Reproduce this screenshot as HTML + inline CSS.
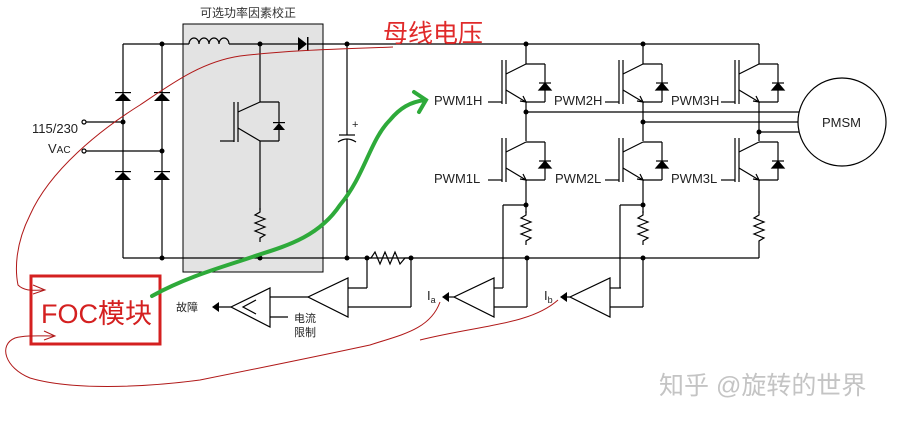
<!DOCTYPE html>
<html><head><meta charset="utf-8"><style>
body{margin:0;background:#fff;}
svg{display:block;}
text{font-family:"Liberation Sans","Noto Sans CJK SC",sans-serif;}
</style></head><body>
<svg width="903" height="421" viewBox="0 0 903 421" xmlns="http://www.w3.org/2000/svg">
<defs>
<g id="igbt" stroke="#000" stroke-width="1.2" fill="none">
  <line x1="-24" y1="-4" x2="-24" y2="40"/>
  <line x1="-20" y1="-4" x2="-20" y2="40"/>
  <line x1="-38" y1="38" x2="-24" y2="38"/>
  <line x1="-20" y1="10" x2="0" y2="0"/>
  <line x1="-20" y1="26" x2="0" y2="38"/>
  <path d="M-6 37 L0 38 L-3 32" />
  <line x1="0" y1="0" x2="19" y2="0"/>
  <line x1="0" y1="38" x2="19" y2="38"/>
  <line x1="19" y1="0" x2="19" y2="38"/>
  <path d="M13 26 L25 26 L19 19 Z" fill="#000"/>
  <line x1="13" y1="19" x2="25" y2="19"/>
</g>
<g id="res" stroke="#000" stroke-width="1.2" fill="none">
  <path d="M0 0 L0 4 L-5 7 L5 11 L-5 15 L5 19 L-5 23 L5 27 L0 30 L0 34"/>
</g>
</defs>

<rect x="183" y="24" width="140" height="248" fill="#e3e3e3" stroke="#000" stroke-width="1"/>
<text x="200" y="17" font-size="12" fill="#333">可选功率因素校正</text>

<g stroke="#000" stroke-width="1.2" fill="none">
<line x1="123" y1="44" x2="189" y2="44"/>
<line x1="123" y1="44" x2="123" y2="258"/>
<line x1="162" y1="44" x2="162" y2="258"/>
<line x1="123" y1="258" x2="759" y2="258"/>
<line x1="84" y1="122" x2="123" y2="122"/>
<line x1="84" y1="151" x2="162" y2="151"/>
<circle cx="84" cy="122" r="2" fill="#fff"/>
<circle cx="84" cy="151" r="2" fill="#fff"/>
<path d="M189 44 a5 6 0 0 1 10 0 a5 6 0 0 1 10 0 a5 6 0 0 1 10 0 a5 6 0 0 1 10 0"/>
<line x1="229" y1="44" x2="298" y2="44"/>
<line x1="308" y1="44" x2="759" y2="44"/>
<line x1="260" y1="44" x2="260" y2="102"/>
<line x1="238" y1="102" x2="238" y2="142"/>
<line x1="234" y1="102" x2="234" y2="142"/>
<line x1="220" y1="141" x2="234" y2="141"/>
<line x1="238" y1="112" x2="260" y2="102"/>
<line x1="238" y1="128" x2="260" y2="141"/>
<line x1="260" y1="102" x2="279" y2="102"/>
<line x1="260" y1="141" x2="279" y2="141"/>
<line x1="279" y1="102" x2="279" y2="141"/>
<line x1="260" y1="141" x2="260" y2="210"/>
<line x1="347" y1="44" x2="347" y2="135"/>
<line x1="339" y1="135" x2="355" y2="135"/>
<path d="M338 142 Q347 136 356 142"/>
<line x1="347" y1="139" x2="347" y2="258"/>
<line x1="526" y1="44" x2="526" y2="64"/>
<line x1="643" y1="44" x2="643" y2="64"/>
<line x1="759" y1="44" x2="759" y2="64"/>
<line x1="526" y1="102" x2="526" y2="141"/>
<line x1="643" y1="102" x2="643" y2="141"/>
<line x1="759" y1="102" x2="759" y2="141"/>
<line x1="526" y1="180" x2="526" y2="213"/>
<line x1="643" y1="180" x2="643" y2="213"/>
<line x1="759" y1="180" x2="759" y2="213"/>
<line x1="526" y1="112" x2="800" y2="112"/>
<line x1="643" y1="122" x2="798" y2="122"/>
<line x1="759" y1="132" x2="800" y2="132"/>
<circle cx="842" cy="122" r="44" fill="#fff"/>
<line x1="503" y1="205" x2="526" y2="205"/>
<line x1="503" y1="205" x2="503" y2="288"/>
<line x1="620" y1="205" x2="643" y2="205"/>
<line x1="620" y1="205" x2="620" y2="288"/>
<path d="M367 258 L371 258 L375 252 L380 264 L385 252 L390 264 L395 252 L400 264 L405 258 L411 258"/>
<path d="M348 278 L348 317 L308 297 Z"/>
<line x1="367" y1="258" x2="367" y2="288"/><line x1="348" y1="288" x2="367" y2="288"/>
<line x1="411" y1="258" x2="411" y2="307"/><line x1="348" y1="307" x2="411" y2="307"/>
<line x1="270" y1="297" x2="308" y2="297"/>
<path d="M270 288 L270 327 L231 307 Z"/>
<path d="M256 300 L243 307 L256 314"/>
<line x1="270" y1="317" x2="288" y2="317"/>
<line x1="214" y1="307" x2="231" y2="307"/>
<path d="M494 278 L494 317 L454 297 Z"/>
<line x1="494" y1="288" x2="503" y2="288"/>
<line x1="494" y1="307" x2="527" y2="307"/><line x1="527" y1="258" x2="527" y2="307"/>
<line x1="444" y1="297" x2="454" y2="297"/>
<path d="M610 278 L610 317 L570 297 Z"/>
<line x1="610" y1="288" x2="621" y2="288"/>
<line x1="610" y1="307" x2="643" y2="307"/><line x1="643" y1="258" x2="643" y2="307"/>
<line x1="562" y1="297" x2="570" y2="297"/>
</g>
<g fill="#000">
<path d="M115 101 L131 101 L123 93 Z"/><rect x="115" y="92" width="16" height="1.2"/>
<path d="M154 101 L170 101 L162 93 Z"/><rect x="154" y="92" width="16" height="1.2"/>
<path d="M115 180 L131 180 L123 172 Z"/><rect x="115" y="171" width="16" height="1.2"/>
<path d="M154 180 L170 180 L162 172 Z"/><rect x="154" y="171" width="16" height="1.2"/>
<path d="M298 37 L298 51 L307 44 Z"/><rect x="307" y="37" width="1.5" height="14"/>
<path d="M273 130 L285 130 L279 123 Z"/><rect x="273" y="122" width="12" height="1.2"/>
<path d="M212 307 L219 302 L219 312 Z"/>
<path d="M442 297 L449 292 L449 302 Z"/>
<path d="M560 297 L567 292 L567 302 Z"/>
<circle cx="162" cy="44" r="2.5"/><circle cx="260" cy="44" r="2.5"/><circle cx="347" cy="44" r="2.5"/>
<circle cx="123" cy="122" r="2.5"/><circle cx="162" cy="151" r="2.5"/>
<circle cx="162" cy="258" r="2.5"/><circle cx="260" cy="258" r="2.5"/><circle cx="347" cy="258" r="2.5"/>
<circle cx="367" cy="258" r="2.5"/><circle cx="411" cy="258" r="2.5"/>
<circle cx="526" cy="44" r="2.5"/><circle cx="643" cy="44" r="2.5"/>
<circle cx="526" cy="112" r="2.5"/><circle cx="643" cy="122" r="2.5"/><circle cx="759" cy="132" r="2.5"/>
<circle cx="526" cy="205" r="2.5"/><circle cx="643" cy="205" r="2.5"/>
<circle cx="527" cy="258" r="2.5"/><circle cx="643" cy="258" r="2.5"/>
</g>
<use href="#res" x="260" y="208"/>
<use href="#res" x="526" y="211"/>
<use href="#res" x="643" y="211"/>
<use href="#res" x="759" y="211"/>
<line x1="759" y1="245" x2="759" y2="258" stroke="#000" stroke-width="1.2"/>
<use href="#igbt" x="526" y="64"/>
<use href="#igbt" x="643" y="64"/>
<use href="#igbt" x="759" y="64"/>
<use href="#igbt" x="526" y="142"/>
<use href="#igbt" x="643" y="142"/>
<use href="#igbt" x="759" y="142"/>

<g font-size="13" fill="#222">
<text x="32" y="133">115/230</text>
<text x="48" y="153">V<tspan font-size="10">AC</tspan></text>
<text x="352" y="128" font-size="11">+</text>
<text x="434" y="105">PWM1H</text><text x="554" y="105">PWM2H</text><text x="671" y="105">PWM3H</text>
<text x="434" y="183">PWM1L</text><text x="555" y="183">PWM2L</text><text x="671" y="183">PWM3L</text>
<text x="822" y="127">PMSM</text>
<text x="176" y="311" font-size="11">故障</text>
<text x="294" y="322" font-size="11">电流</text>
<text x="294" y="336" font-size="11">限制</text>
<text x="427" y="300">I<tspan font-size="9" dy="3">a</tspan></text>
<text x="544" y="300">I<tspan font-size="9" dy="3">b</tspan></text>
</g>

<text x="383" y="42" font-size="25" fill="#e02a2a">母线电压</text>
<rect x="31" y="276" width="129" height="68" fill="none" stroke="#d42020" stroke-width="3"/>
<text x="41" y="323" font-size="27" fill="#d42020">FOC模块</text>
<g stroke="#b01818" stroke-width="1" fill="none">
<path d="M393 47 C340 49 290 50 240 56 C200 62 170 85 140 105 C100 130 50 170 30 215 C15 245 15 270 18 285 C25 292 35 290 45 290"/>
<path d="M33 285 L45 290 L33 294"/>
<path d="M440 302 C430 330 400 335 370 345 C300 360 250 370 200 380 C140 388 70 390 30 378 C5 368 -2 345 15 338 C25 335 40 336 55 336"/>
<path d="M44 331 L55 336 L44 340"/>
<path d="M558 300 C530 325 480 325 420 340"/>
</g>
<path d="M152 296 C190 275 230 265 258 255 C290 245 320 235 340 205 C365 175 370 140 390 120 C400 108 410 102 425 100" stroke="#2eaa3a" stroke-width="4" fill="none" stroke-linecap="round"/>
<path d="M414 92 L426 100 L419 112" stroke="#2eaa3a" stroke-width="4" fill="none" stroke-linecap="round"/>
<text x="659" y="394" font-size="25" fill="#c4c4c4">知乎 @旋转的世界</text>
</svg>
</body></html>
